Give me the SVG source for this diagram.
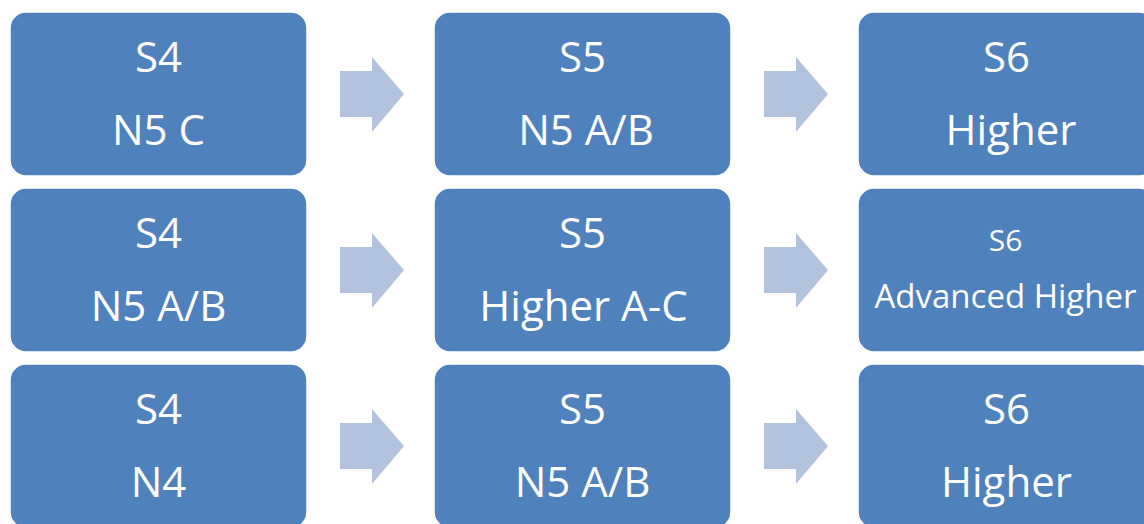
<svg xmlns="http://www.w3.org/2000/svg" width="1144" height="524" viewBox="0 0 1144 524">
<style>
.box{fill:#4f81bd;stroke:#ffffff;stroke-width:1.5}
.t{fill:#ffffff;font-family:"Open Sans","DejaVu Sans",sans-serif;font-size:42px;text-anchor:middle}
.s{font-size:30px}
.a{font-size:33px}
.arr{fill:#b3c3de}
</style>
<rect width="1144" height="524" fill="#ffffff"/>
<g id="connectors">
<polygon class="arr" points="340,71 372,71 372,57 404,94 372,132 372,117 340,117"/>
<polygon class="arr" points="764,71 796,71 796,57 828,94 796,132 796,117 764,117"/>
<polygon class="arr" points="340,247 372,247 372,233 404,270 372,308 372,293 340,293"/>
<polygon class="arr" points="764,247 796,247 796,233 828,270 796,308 796,293 764,293"/>
<polygon class="arr" points="340,423 372,423 372,409 404,446 372,484 372,469 340,469"/>
<polygon class="arr" points="764,423 796,423 796,409 828,446 796,484 796,469 764,469"/>
</g>
<g id="n1"><rect class="box" x="10" y="12" width="297" height="164" rx="16"/><text class="t" x="158.5" y="72">S4</text><text class="t" x="158.5" y="145">N5 C</text></g>
<g id="n2"><rect class="box" x="434" y="12" width="297" height="164" rx="16"/><text class="t" x="582.5" y="72">S5</text><text class="t" x="586" y="145">N5 A/B</text></g>
<g id="n3"><rect class="box" x="858" y="12" width="297" height="164" rx="16"/><text class="t" x="1006.5" y="72">S6</text><text class="t" x="1011" y="145">Higher</text></g>
<g id="n4"><rect class="box" x="10" y="188" width="297" height="164" rx="16"/><text class="t" x="158.5" y="248">S4</text><text class="t" x="158.5" y="321">N5 A/B</text></g>
<g id="n5"><rect class="box" x="434" y="188" width="297" height="164" rx="16"/><text class="t" x="582.5" y="248">S5</text><text class="t" x="583.5" y="321">Higher A-C</text></g>
<g id="n6"><rect class="box" x="858" y="188" width="297" height="164" rx="16"/><text class="t s" x="1005.5" y="251">S6</text><text class="t a" x="1005.5" y="308">Advanced Higher</text></g>
<g id="n7"><rect class="box" x="10" y="364" width="297" height="164" rx="16"/><text class="t" x="158.5" y="424">S4</text><text class="t" x="158.5" y="497">N4</text></g>
<g id="n8"><rect class="box" x="434" y="364" width="297" height="164" rx="16"/><text class="t" x="582.5" y="424">S5</text><text class="t" x="582.5" y="497">N5 A/B</text></g>
<g id="n9"><rect class="box" x="858" y="364" width="297" height="164" rx="16"/><text class="t" x="1006.5" y="424">S6</text><text class="t" x="1006.5" y="497">Higher</text></g>
</svg>
